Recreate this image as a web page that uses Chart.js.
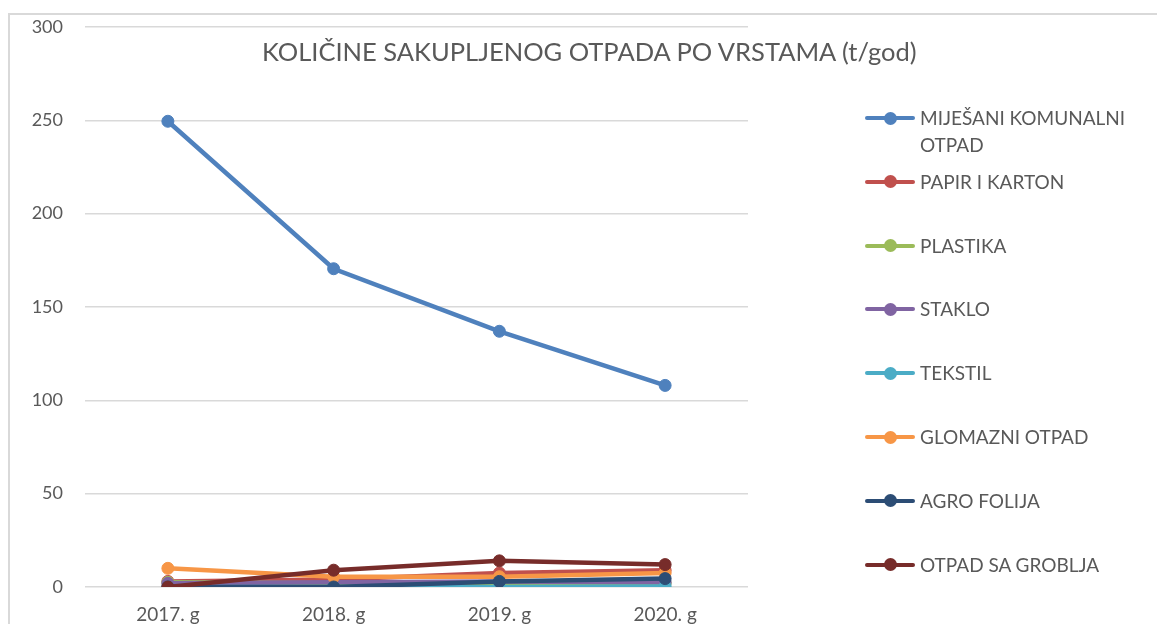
<!DOCTYPE html>
<html>
<head>
<meta charset="utf-8">
<script src="https://cdn.jsdelivr.net/npm/chart.js@4.4.1/dist/chart.umd.min.js"></script>
<style>
  body { margin: 0; background: #fff; font-family: Lato, "Open Sans", sans-serif; }
  #wrap { position: relative; width: 1157px; height: 624px; overflow: hidden; }
  #frame {
    position: absolute; left: 8px; top: 13px; width: 2000px; height: 2000px;
    border-left: 2px solid #d9d9d9; border-top: 2px solid #d9d9d9;
  }
  #chart-box { position: absolute; left: 0; top: 0; width: 1157px; height: 624px; }
  #title {
    position: absolute; left: 262px; top: 36px; white-space: nowrap;
    font-size: 25.5px; line-height: 30px; color: #595959;
  }
  .lg-item { position: absolute; left: 865px; width: 290px; }
  .lg-key { position: absolute; left: 0; top: -2px; width: 50px; height: 4px; border-radius: 2px; }
  .lg-key::after {
    content: ""; position: absolute; left: 19px; top: -4.5px; width: 13px; height: 13px;
    border-radius: 50%; background: inherit;
  }
  .lg-text {
    position: absolute; left: 55px; top: -14px; width: 225px;
    font-size: 19px; line-height: 27px; color: #595959;
  }
</style>
</head>
<body>
<div id="wrap">
  <div id="frame"></div>
  <div id="chart-box"><canvas id="otpad-chart"></canvas></div>
  <div id="title">KOLIČINE SAKUPLJENOG OTPADA PO VRSTAMA (t/god)</div>
  <div id="legend"></div>
</div>

<script>
// Godine i količine po vrstama otpada (t/god)
const years = ['2017. g', '2018. g', '2019. g', '2020. g'];

const mijesaniKomunalni = [249.5, 170.5, 137, 108];
const papirKarton       = [3, 4, 7.5, 9];
const plastika          = [2.5, 2, 2, 2];
const staklo            = [2, 2.5, 3, 2.5];
const tekstil           = [0, 0, 0, 0.3];
const glomazni          = [10, 5.5, 5.5, 7.5];
const agroFolija        = [0, 0, 3, 4.5];
const otpadGroblja      = [0, 9, 14, 12];

const seriesNames  = ['MIJEŠANI KOMUNALNI OTPAD', 'PAPIR I KARTON', 'PLASTIKA', 'STAKLO',
                      'TEKSTIL', 'GLOMAZNI OTPAD', 'AGRO FOLIJA', 'OTPAD SA GROBLJA'];
const seriesData   = [mijesaniKomunalni, papirKarton, plastika, staklo,
                      tekstil, glomazni, agroFolija, otpadGroblja];
const seriesColors = ['#4f81bd', '#c0504d', '#9bbb59', '#8064a2',
                      '#4bacc6', '#f79646', '#2c4d75', '#772c2a'];

const yTicks = [0, 50, 100, 150, 200, 250, 300];

const FONT = 'Lato, "Open Sans", sans-serif';
const GREY = '#595959';

const datasets = seriesNames.map((name, i) => ({
  label: name,
  data: seriesData[i],
  borderColor: seriesColors[i],
  backgroundColor: seriesColors[i],
  borderWidth: 4.5,
  pointRadius: 6,
  pointBorderWidth: 1,
  pointHoverRadius: 6,
  // kasnije serije crtaju se preko ranijih
  order: seriesNames.length - i,
  tension: 0,
}));

new Chart(document.getElementById('otpad-chart'), {
  type: 'line',
  data: { labels: years, datasets },
  options: {
    responsive: true,
    maintainAspectRatio: false,
    animation: false,
    layout: { padding: { left: 0, right: 409, top: 27, bottom: 0 } },
    plugins: {
      legend: { display: false },
      title: { display: false },
      tooltip: { enabled: false },
    },
    scales: {
      x: {
        offset: true,
        grid: { display: false, drawTicks: false },
        border: { display: false },
        ticks: { color: GREY, padding: 16, font: { family: FONT, size: 19 } },
        afterFit: s => { s.height = 37; },
      },
      y: {
        min: 0,
        max: 300,
        afterBuildTicks: s => { s.ticks = yTicks.map(v => ({ value: v })); },
        grid: { color: '#d9d9d9', lineWidth: 1.5, drawTicks: false },
        border: { display: false },
        ticks: { color: GREY, padding: 22, font: { family: FONT, size: 18 } },
        afterFit: s => { s.width = 85; s.paddingTop = 0; s.paddingBottom = 0; },
      },
    },
  },
});

// Legenda desno od grafa
const legend = document.getElementById('legend');
seriesNames.forEach((name, i) => {
  const item = document.createElement('div');
  item.className = 'lg-item';
  item.style.top = (118 + i * 63.8) + 'px';
  item.innerHTML = `<div class="lg-key" style="background:${seriesColors[i]}"></div>` +
                   `<div class="lg-text">${name}</div>`;
  legend.appendChild(item);
});
</script>
</body>
</html>
